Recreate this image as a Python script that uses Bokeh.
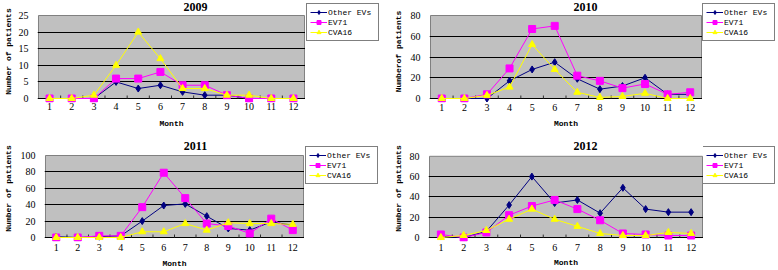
from bokeh.plotting import figure
from bokeh.layouts import column, row
from bokeh.models import Range1d, FixedTicker, Legend, LegendItem, Label
from bokeh.embed import file_html
from bokeh.resources import INLINE

months = list(range(1, 13))
series_names = ["Other EVs", "EV71", "CVA16"]
series_colors = ["#000080", "#FF00FF", "#FFFF00"]
series_markers = ["diamond", "square", "triangle"]

other_2009 = [0, 0, 0, 5, 3, 4, 2, 1, 1, 0, 0, 0]
ev71_2009 = [0, 0, 0, 6, 6, 8, 4, 4, 1, 0, 0, 0]
cva16_2009 = [0, 0, 1, 10, 20, 12, 3, 3, 1, 1, 0, 0]

other_2010 = [0, 0, 0, 17, 28, 35, 19, 9, 12, 20, 4, 4]
ev71_2010 = [0, 0, 4, 29, 67, 70, 22, 17, 10, 14, 4, 6]
cva16_2010 = [0, 0, 3, 11, 52, 28, 6, 1, 2, 5, 0, 0]

other_2011 = [1, 0, 1, 2, 20, 39, 41, 26, 11, 9, 19, 15]
ev71_2011 = [0, 0, 2, 2, 37, 79, 48, 17, 14, 5, 23, 9]
cva16_2011 = [0, 0, 0, 0, 7, 7, 17, 9, 18, 17, 17, 16]

other_2012 = [1, 0, 6, 32, 60, 34, 37, 24, 49, 28, 25, 25]
ev71_2012 = [3, 0, 5, 22, 31, 37, 28, 17, 4, 3, 2, 2]
cva16_2012 = [0, 2, 7, 18, 28, 18, 11, 4, 2, 2, 5, 4]

W, H = 389, 135
PAD_B, PAD_X = 4, 1


def panel(title, ylabel, data, ymax, ystep, gl, gr, gt, gb, leg_left, leg_top,
          title_c, ylab_stand, xstand, xlab_stand):
    gh = gb - gt
    upp = ymax / gh
    n = len(months)
    xupp = n / (gr - gl)
    pw = gr + PAD_X
    p = figure(width=pw, height=H, output_backend="svg", toolbar_location=None, title=None,
               x_range=Range1d(0.5 - PAD_X * xupp, n + 0.5 + PAD_X * xupp),
               y_range=Range1d(-PAD_B * upp, ymax + gt * upp),
               min_border_left=gl - PAD_X, min_border_right=0,
               min_border_top=0, min_border_bottom=H - gb - PAD_B)
    p.background_fill_color = "white"
    p.border_fill_color = "white"
    p.outline_line_color = None

    p.quad(left=[0.5], right=[n + 0.5], bottom=[0], top=[ymax],
           fill_color="#C0C0C0", line_color="#808080", line_width=1, level="image")

    p.xgrid.visible = False
    p.ygrid.ticker = FixedTicker(ticks=list(range(0, ymax, ystep)))
    p.ygrid.grid_line_color = "black"
    p.ygrid.grid_line_width = 1

    # category-boundary tick marks, pointing up into the plot area
    bounds = [m + 0.5 for m in months[:-1]]
    p.segment(x0=bounds, x1=bounds, y0=[0] * len(bounds), y1=[3 * upp] * len(bounds),
              line_color="#303030", line_width=1)

    p.yaxis.ticker = FixedTicker(ticks=list(range(0, ymax + 1, ystep)))
    p.yaxis.axis_line_color = None
    p.yaxis.major_tick_line_color = None
    p.yaxis.minor_tick_line_color = None
    p.yaxis.major_tick_out = 0
    p.yaxis.major_tick_in = 0
    p.yaxis.major_label_standoff = 8 + PAD_X
    p.yaxis.major_label_text_font = "Liberation Serif"
    p.yaxis.major_label_text_font_size = "10px"
    p.yaxis.major_label_text_color = "black"
    p.yaxis.axis_label = ylabel
    p.yaxis.axis_label_standoff = ylab_stand
    p.yaxis.axis_label_text_font = "Liberation Mono"
    p.yaxis.axis_label_text_font_style = "bold"
    p.yaxis.axis_label_text_font_size = "8px"
    p.yaxis.axis_label_text_color = "black"

    p.xaxis.ticker = FixedTicker(ticks=months)
    p.xaxis.axis_line_color = None
    p.xaxis.major_tick_line_color = None
    p.xaxis.minor_tick_line_color = None
    p.xaxis.major_tick_out = 0
    p.xaxis.major_tick_in = 0
    p.xaxis.major_label_standoff = xstand
    p.xaxis.major_label_text_font = "Liberation Serif"
    p.xaxis.major_label_text_font_size = "10px"
    p.xaxis.major_label_text_color = "black"
    p.xaxis.axis_label = "Month"
    p.xaxis.axis_label_standoff = xlab_stand
    p.xaxis.axis_label_text_font = "Liberation Mono"
    p.xaxis.axis_label_text_font_style = "bold"
    p.xaxis.axis_label_text_font_size = "8px"
    p.xaxis.axis_label_text_color = "black"

    for vals, col, mk in zip(data, series_colors, series_markers):
        p.line(months, vals, line_color=col, line_width=1)
        p.scatter(months, vals, marker=mk, size=7, fill_color=col, line_color=col)

    fb = gb + PAD_B
    p.add_layout(Label(x=title_c[0] - (gl - PAD_X), y=fb - title_c[1],
                       x_units="screen", y_units="screen",
                       text=title, text_align="center", text_baseline="middle",
                       text_font="Liberation Serif", text_font_style="bold",
                       text_font_size="12px", text_color="black"))

    # legend lives in its own small figure to the right of the plot area
    lw = W - pw
    lf = figure(width=lw, height=H, output_backend="svg", toolbar_location=None, title=None,
                x_range=Range1d(-20, -19), y_range=Range1d(-20, -19),
                x_axis_location=None, y_axis_location=None,
                min_border_left=0, min_border_right=0, min_border_top=0, min_border_bottom=0)
    lf.background_fill_color = "white"
    lf.border_fill_color = "white"
    lf.outline_line_color = None
    lf.grid.visible = False
    items = []
    for name, vals, col, mk in zip(series_names, data, series_colors, series_markers):
        r = lf.line(months, vals, line_color=col, line_width=1)
        s = lf.scatter(months, vals, marker=mk, size=7, fill_color=col, line_color=col)
        items.append(LegendItem(label=name, renderers=[r, s]))
    leg_h = 36
    legend = Legend(items=items, location=(leg_left - pw, H - (leg_top + leg_h)),
                    border_line_color="black", border_line_width=1,
                    background_fill_color="white", background_fill_alpha=1,
                    padding=3, spacing=0, margin=0, glyph_width=17, glyph_height=10,
                    label_height=10, label_width=47, label_standoff=1,
                    label_text_font="Liberation Mono", label_text_font_size="8px",
                    label_text_color="black")
    lf.add_layout(legend)
    return p, lf


p1, l1 = panel("2009", "Number of patients", [other_2009, ev71_2009, cva16_2009], 25, 5,
               33, 304, 15, 98, 306, 38, (190, 6.5), 3, 0, 6)
p2, l2 = panel("2010", "Numberof patients", [other_2010, ev71_2010, cva16_2010], 80, 20,
               41, 312, 15, 98, 313, 38, (196, 6.5), 5, 1, 5)
p3, l3 = panel("2011", "Number of patients", [other_2011, ev71_2011, cva16_2011], 100, 20,
               39, 303, 20, 102, 305, 42, (189, 10.5), 5, 2, 5)
p4, l4 = panel("2012", "Number of patients", [other_2012, ev71_2012, cva16_2012], 80, 20,
               40, 313, 21, 103, 313, 42, (196, 11.5), 4, 2, 4)

layout = column(row(p1, l1, p2, l2), row(p3, l3, p4, l4))
open("out.html", "w").write(file_html(layout, INLINE))
